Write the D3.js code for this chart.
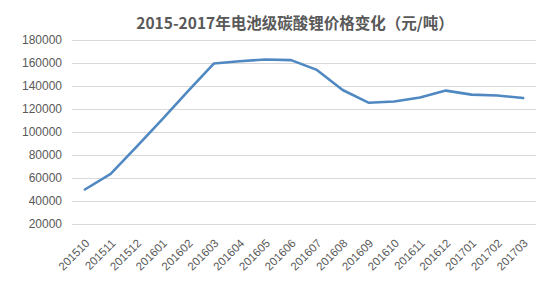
<html>
<head>
<meta charset="utf-8"/>
<title>2015-2017年电池级碳酸锂价格变化</title>
<script src="https://cdn.jsdelivr.net/npm/d3@7/dist/d3.min.js"></script>
<style>
  body{margin:0;background:#fff;}
  text{fill:#595959;}
</style>
</head>
<body>
<svg id="chart" width="550" height="287"></svg>
<script>
// months and prices (元/吨)
var months = ["201510","201511","201512","201601","201602","201603","201604","201605","201606",
              "201607","201608","201609","201610","201611","201612","201701","201702","201703"];
var prices = [50000, 63500, 87000, 111000, 135500, 159500, 161500, 163000, 162500,
              154000, 136500, 125500, 126500, 130000, 136000, 132500, 131800, 129500];
var yTicks = [20000, 40000, 60000, 80000, 100000, 120000, 140000, 160000, 180000];

var svg = d3.select("#chart");
var plotL = 72, plotR = 536, plotT = 40, plotB = 247;

var x = d3.scalePoint().domain(months).range([plotL, plotR]).padding(0.5);
var y = d3.scaleLinear().domain([0, 180000]).range([plotB, plotT]);

// title
svg.append("text")
   .attr("x", 295).attr("y", 29)
   .attr("text-anchor", "middle")
   .style("font-family", "'Noto Sans CJK SC', sans-serif")
   .style("font-weight", "bold")
   .style("font-size", "15.5px")
   .text("2015-2017年电池级碳酸锂价格变化（元/吨）");

// gridlines + y labels
var yAxis = d3.axisLeft(y).tickValues(yTicks).tickFormat(d3.format("d"))
  .tickSize(-(plotR - plotL)).tickPadding(10);
var gy = svg.append("g").attr("transform", "translate(" + plotL + ",0)").call(yAxis);
gy.select(".domain").remove();
gy.selectAll(".tick line").attr("stroke", "#d9d9d9");
gy.selectAll(".tick text")
  .style("font-family", "'Liberation Sans', sans-serif")
  .style("font-size", "12px")
  .attr("fill", "#595959");

// x labels
var xAxis = d3.axisBottom(x).tickSize(0).tickPadding(0);
var gx = svg.append("g").attr("transform", "translate(0," + plotB + ")").call(xAxis);
gx.select(".domain").remove();
gx.selectAll(".tick text")
  .style("font-family", "'Liberation Sans', sans-serif")
  .style("font-size", "11.5px")
  .attr("fill", "#595959")
  .attr("text-anchor", "end")
  .attr("dy", "0")
  .attr("transform", "translate(5,-3) rotate(-45)");

// line
var line = d3.line()
  .x(function(d, i){ return x(months[i]); })
  .y(function(d){ return y(d); });

svg.append("path")
   .datum(prices)
   .attr("d", line)
   .attr("fill", "none")
   .attr("stroke", "#5088c2")
   .attr("stroke-width", 2.6)
   .attr("stroke-linejoin", "round")
   .attr("stroke-linecap", "round");
</script>
</body>
</html>
